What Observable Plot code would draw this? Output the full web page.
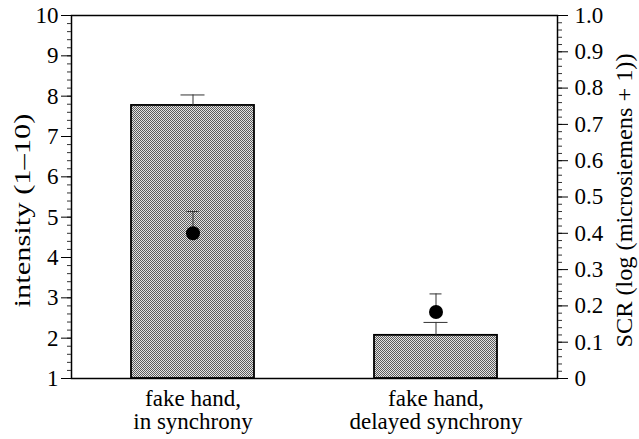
<!DOCTYPE html>
<html>
<head>
<meta charset="utf-8">
<script src="https://cdn.jsdelivr.net/npm/d3@7"></script>
<script src="https://cdn.jsdelivr.net/npm/@observablehq/plot@0.6"></script>
<style>
  html, body { margin: 0; padding: 0; background: white; }
  svg, svg text { font-family: "Liberation Serif", "Times New Roman", serif !important; }
</style>
</head>
<body>
<div id="chart"></div>
<script>
// ---- data ----
const categories = ["fake hand,\nin synchrony", "fake hand,\ndelayed synchrony"];
const intensity = [7.77, 2.07];          // bar means (left axis, 1–10)
const intensityErr = [0.26, 0.32];       // upper error
const scr = [0.40, 0.183];               // dot means (right axis)
const scrErr = [0.06, 0.05];             // upper error
const leftTicks = [1, 2, 3, 4, 5, 6, 7, 8, 9, 10];
const rightTickValues = [0, 0.1, 0.2, 0.3, 0.4, 0.5, 0.6, 0.7, 0.8, 0.9, 1.0];
const rightTickLabels = ["0", "0.1", "0.2", "0.3", "0.4", "0.5", "0.6", "0.7", "0.8", "0.9", "1.0"];
const leftTitle = "intensity (1–10)";
const rightTitle = "SCR (log (microsiemens + 1))";

// right axis (0–1) mapped onto left scale (1–10)
const toLeft = v => 1 + 9 * v;

const data = categories.map((c, i) => ({
  cat: c,
  intensity: intensity[i],
  intensityTop: intensity[i] + intensityErr[i],
  scr: toLeft(scr[i]),
  scrTop: toLeft(scr[i] + scrErr[i])
}));

const leftMinor = d3.range(1, 10.0001, 0.2);
const rightMinor = d3.range(0, 1.0001, 0.02).map(toLeft);

const fs = 23;
const ff = "Liberation Serif";

const chart = Plot.plot({
  width: 639,
  height: 439,
  marginLeft: 71,
  marginRight: 82,
  marginTop: 15,
  marginBottom: 61,
  style: "font-family: 'Liberation Serif', serif; font-size: 23px; background: white; color: black;",
  x: { domain: categories, paddingInner: 0.494, paddingOuter: 0.247, axis: null },
  y: { domain: [1, 10], axis: null },
  marks: [
    Plot.barY(data, { x: "cat", y1: 1, y2: "intensity", fill: "url(#stipple)", stroke: "black", strokeWidth: 1.8 }),
    Plot.ruleX(data, { x: "cat", y1: "intensity", y2: "intensityTop", stroke: "#333", strokeWidth: 1 }),
    Plot.tickY(data, { x: "cat", y: "intensityTop", stroke: "#333", strokeWidth: 1, insetLeft: 49.5, insetRight: 49.5 }),
    Plot.ruleX(data, { x: "cat", y1: "scr", y2: "scrTop", stroke: "#333", strokeWidth: 1 }),
    Plot.tickY(data, { x: "cat", y: "scrTop", stroke: "#333", strokeWidth: 1, insetLeft: 55.5, insetRight: 55.5 }),
    Plot.dot(data, { x: "cat", y: "scr", r: 7, fill: "black" }),
    Plot.frame({ stroke: "black", strokeWidth: 1.5 }),
    // left axis
    Plot.axisY({ ticks: leftMinor, tickSize: 4, text: null, stroke: "#333" }),
    Plot.axisY({ ticks: leftTicks, tickSize: 10, tickPadding: 3, fontSize: fs, fontFamily: ff, tickFormat: d => String(d), stroke: "black" }),
    // right axis
    Plot.axisY({ anchor: "right", ticks: rightMinor, tickSize: 4, text: null, stroke: "#333" }),
    Plot.axisY({ anchor: "right", ticks: rightTickValues.map(toLeft), tickSize: 10, tickPadding: 7, fontSize: fs, fontFamily: ff,
      tickFormat: (d, i) => rightTickLabels[i], stroke: "black" }),
    // x labels
    Plot.text(data, { x: "cat", text: "cat", frameAnchor: "bottom", lineAnchor: "top", dy: 10.7, fontSize: fs, fontFamily: ff, lineHeight: 1.0, fill: "black" }),
    // axis titles
    Plot.text([leftTitle], { frameAnchor: "left", text: d => d, rotate: -90, dx: -49, dy: 13.5, fontSize: fs, fontFamily: ff,
      textAnchor: "middle", lineAnchor: "middle", fill: "black" }),
    Plot.text([rightTitle], { frameAnchor: "right", text: d => d, rotate: -90, dx: 67, dy: 3.5, fontSize: 23, fontFamily: ff,
      textAnchor: "middle", lineAnchor: "middle", fill: "black" })
  ]
});

// stipple pattern for the bars
const svg = d3.select(chart);
const defs = svg.insert("defs", ":first-child");
const pat = defs.append("pattern").attr("id", "stipple").attr("width", 2).attr("height", 2).attr("patternUnits", "userSpaceOnUse");
pat.append("rect").attr("width", 2).attr("height", 2).attr("fill", "#e4e4e4");
[[0, 0], [1, 1]].forEach(([px, py]) => pat.append("rect").attr("x", px).attr("y", py).attr("width", 1).attr("height", 1).attr("fill", "#5c5c5c"));

// stretch titles to reference lengths
svg.selectAll("text").filter(function () { return this.textContent === leftTitle; })
  .attr("textLength", 194).attr("lengthAdjust", "spacingAndGlyphs");
svg.selectAll("text").filter(function () { return this.textContent === rightTitle; })
  .attr("textLength", 294).attr("lengthAdjust", "spacingAndGlyphs");

document.getElementById("chart").appendChild(chart);
</script>
</body>
</html>
